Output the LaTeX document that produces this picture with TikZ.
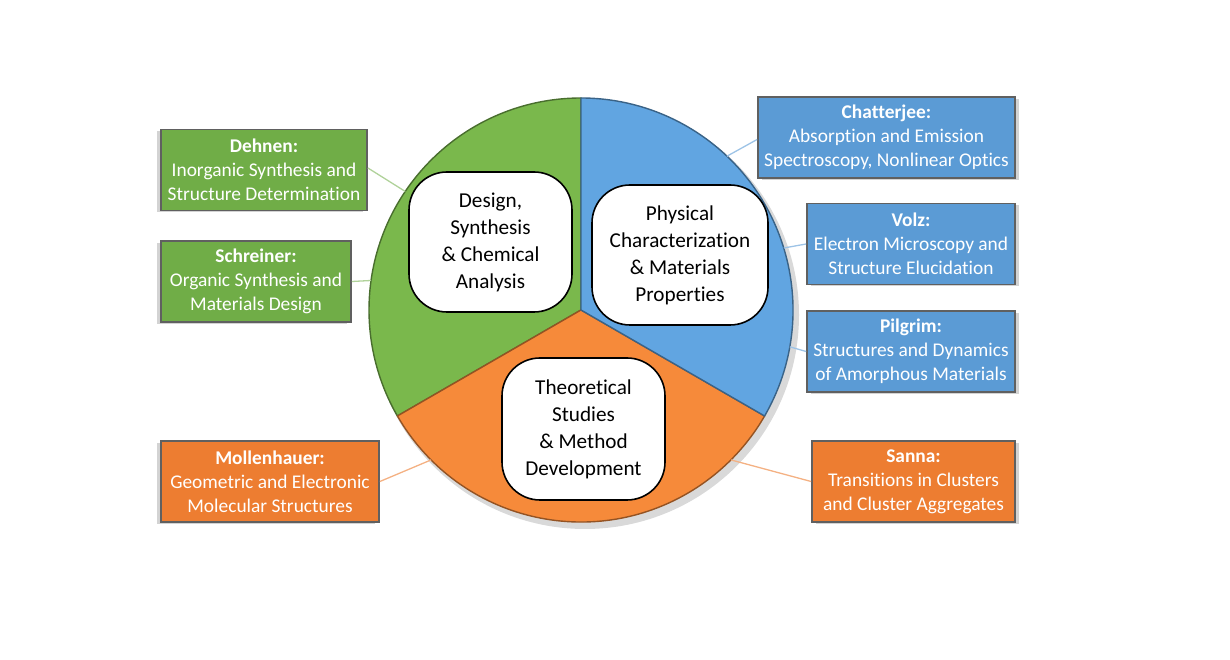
\documentclass[tikz,border=0pt]{standalone}
\usepackage{fontspec}
\setmainfont[Ligatures=NoCommon]{Carlito}
\usetikzlibrary{shadows, calc}

\definecolor{grpgreen}{RGB}{112,173,71}
\definecolor{grpblue}{RGB}{91,155,213}
\definecolor{grporange}{RGB}{237,125,49}
\definecolor{piegreen}{RGB}{122,184,76}
\definecolor{pieblue}{RGB}{97,165,225}
\definecolor{pieorange}{RGB}{246,138,58}

\begin{document}
\begin{tikzpicture}[
  x=1pt, y=1pt,
  grpbox/.style={draw=gray!75!black, line width=1.8pt, text=white, align=center,
    minimum height=81, inner sep=2pt, font=\fontsize{19.4}{24}\selectfont},
  lshadow/.style={drop shadow={shadow xshift=-4pt, shadow yshift=-2pt, opacity=.35}},
  rshadow/.style={drop shadow={shadow xshift=4pt, shadow yshift=-2pt, opacity=.35}},
  topic/.style={draw=black, line width=1.6pt, fill=white, rounded corners=38pt,
    align=center, font=\fontsize{21.2}{27}\selectfont},
  sector/.style={line width=1.4pt, line join=round},
  link/.style={line width=1.3pt}
]
  \useasboundingbox (0,0) rectangle (1230,660);
  \coordinate (c) at (581,350);

  % PIE
  \fill[gray, opacity=.3] ($(c)+(4,-5)$) circle (214);
  \filldraw[sector, fill=piegreen, draw=piegreen!60!black]
    (c) -- ++(90:212) arc[start angle=90, end angle=210, radius=212] -- cycle;
  \filldraw[sector, fill=pieorange, draw=pieorange!60!black]
    (c) -- ++(210:212) arc[start angle=210, end angle=330, radius=212] -- cycle;
  \filldraw[sector, fill=pieblue, draw=pieblue!60!black]
    (c) -- ++(330:212) arc[start angle=330, end angle=450, radius=212] -- cycle;

  \node[topic, minimum width=163, minimum height=140] (design) at (490.5,418)
    {Design,\\Synthesis\\\& Chemical\\Analysis};
  \node[topic, minimum width=176, minimum height=140] (physical) at (680,405)
    {Physical\\Characterization\\\& Materials\\Properties};
  \node[topic, minimum width=163, minimum height=142] (theory) at (583.5,231)
    {Theoretical\\Studies\\\& Method\\Development};

  % GREEN GROUPS
  \node[grpbox, lshadow, fill=grpgreen, minimum width=206] (dehnen) at (264,490)
    {\textbf{Dehnen:}\\Inorganic Synthesis and\\Structure Determination};
  \node[grpbox, lshadow, fill=grpgreen, minimum width=190] (schreiner) at (256,378.5)
    {\textbf{Schreiner:}\\Organic Synthesis and\\Materials Design};

  % ORANGE GROUPS
  \node[grpbox, lshadow, fill=grporange, minimum width=218] (mollen) at (270,178.5)
    {\textbf{Mollenhauer:}\\Geometric and Electronic\\Molecular Structures};
  \node[grpbox, rshadow, fill=grporange, minimum width=203] (sanna) at (913.5,178.5)
    {\textbf{Sanna:}\\Transitions in Clusters\\and Cluster Aggregates};

  % BLUE GROUPS
  \node[grpbox, rshadow, fill=grpblue, minimum width=257] (chatt) at (886.5,522.5)
    {\textbf{Chatterjee:}\\Absorption and Emission\\Spectroscopy, Nonlinear Optics};
  \node[grpbox, rshadow, fill=grpblue, minimum width=208] (volz) at (911,416)
    {\textbf{Volz:}\\Electron Microscopy and\\Structure Elucidation};
  \node[grpbox, rshadow, fill=grpblue, minimum width=208] (pilgrim) at (911,308.5)
    {\textbf{Pilgrim:}\\Structures and Dynamics\\of Amorphous Materials};

  % LINKS
  \coordinate (pd) at ($(c)+(146:212)$);
  \coordinate (ps) at ($(c)+(172:212)$);
  \coordinate (pm) at ($(c)+(225:212)$);
  \coordinate (pn) at ($(c)+(315:212)$);
  \coordinate (pc) at ($(c)+(46.5:212)$);
  \coordinate (pv) at ($(c)+(17:212)$);
  \coordinate (pp) at ($(c)+(350:212)$);
  \draw[link, draw=grpgreen!55] ([yshift=2]dehnen.east) -- (pd);
  \draw[link, draw=grpgreen!55] (schreiner.east) -- (ps);
  \draw[link, draw=grporange!60] (mollen.east) -- (pm);
  \draw[link, draw=grporange!60] (sanna.west) -- (pn);
  \draw[link, draw=grpblue!60] ([yshift=-2]chatt.west) -- (pc);
  \draw[link, draw=grpblue!60] (volz.west) -- (pv);
  \draw[link, draw=grpblue!60] (pilgrim.west) -- (pp);
\end{tikzpicture}
\end{document}
